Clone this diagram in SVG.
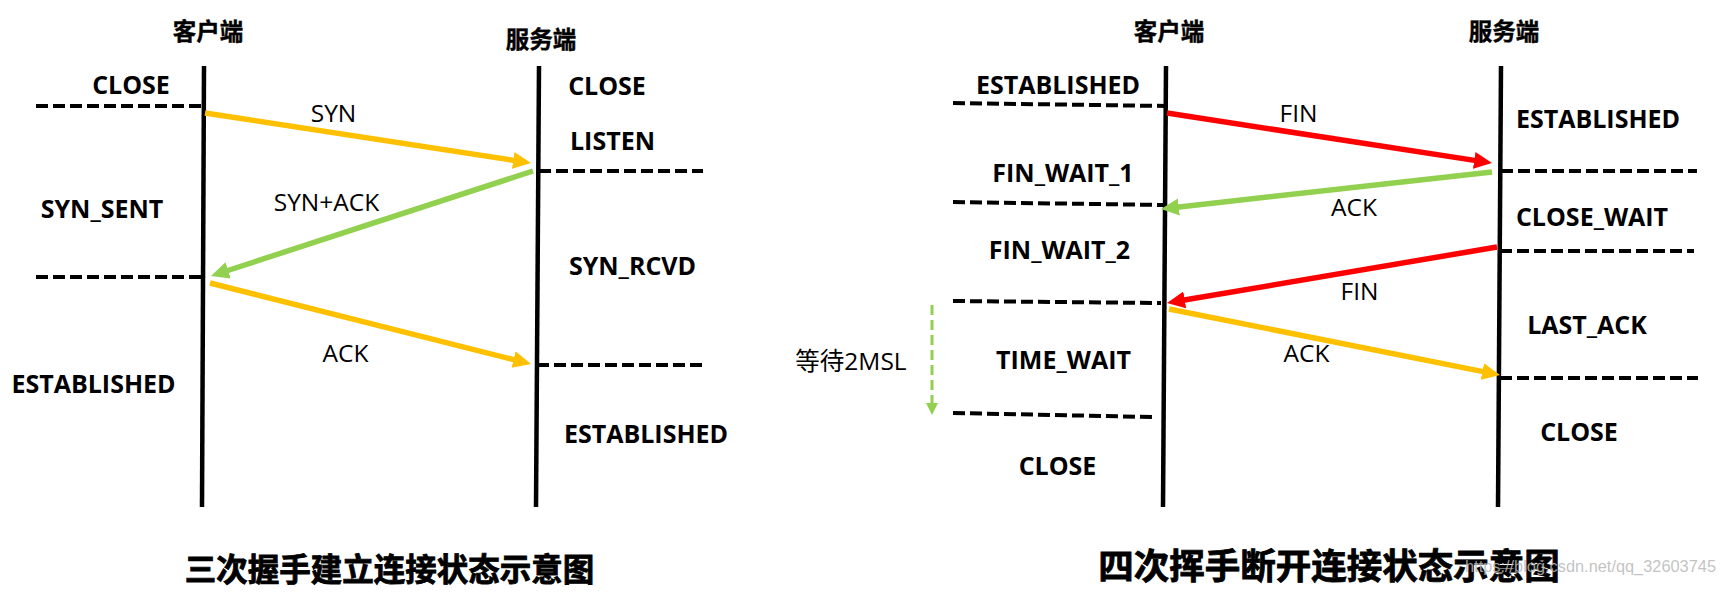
<svg xmlns="http://www.w3.org/2000/svg" width="1723" height="593" viewBox="0 0 1723 593">
<style>
.state{font-family:"Open Sans","Noto Sans CJK SC",sans-serif;font-weight:700;font-size:25px;fill:#000;text-anchor:middle}
.msg{font-family:"Open Sans","Noto Sans CJK SC",sans-serif;font-weight:400;font-size:24.5px;fill:#000;text-anchor:middle}
.head{font-family:"Noto Sans CJK SC",sans-serif;font-weight:700;font-size:23.5px;fill:#000;stroke:#000;stroke-width:0.4;text-anchor:middle}
.title{font-family:"Noto Sans CJK SC",sans-serif;font-weight:700;fill:#000;stroke:#000;stroke-width:0.8;text-anchor:middle}
.life{stroke:#000;stroke-width:4.5;fill:none}
.dash{stroke:#000;stroke-width:4;stroke-dasharray:12 5;fill:none}
.y{stroke:#FFC000;stroke-width:5.5;fill:none}
.g{stroke:#92D050;stroke-width:5.5;fill:none}
.r{stroke:#FF0000;stroke-width:5.5;fill:none}
</style>
<defs>
<marker id="ay" markerUnits="userSpaceOnUse" markerWidth="24" markerHeight="20" viewBox="0 -10 24 20" refX="2" refY="0" orient="auto"><path d="M0,-8.5 L18,0 L0,8.5 z" fill="#FFC000"/></marker>
<marker id="ag" markerUnits="userSpaceOnUse" markerWidth="24" markerHeight="20" viewBox="0 -10 24 20" refX="2" refY="0" orient="auto"><path d="M0,-8.5 L18,0 L0,8.5 z" fill="#92D050"/></marker>
<marker id="ar" markerUnits="userSpaceOnUse" markerWidth="24" markerHeight="20" viewBox="0 -10 24 20" refX="2" refY="0" orient="auto"><path d="M0,-8.5 L18,0 L0,8.5 z" fill="#FF0000"/></marker>
<marker id="ag2" markerUnits="userSpaceOnUse" markerWidth="16" markerHeight="16" viewBox="0 -8 16 16" refX="1" refY="0" orient="auto"><path d="M0,-6 L12,0 L0,6 z" fill="#92D050"/></marker>
</defs>
<rect width="1723" height="593" fill="#fff"/>

<!-- Left diagram: three-way handshake -->
<g id="client1">
<line class="life" x1="204" y1="66" x2="202" y2="507"/>
<text class="head" x="208" y="40">客户端</text>
</g>
<g id="server1">
<line class="life" x1="539" y1="66" x2="536" y2="507"/>
<text class="head" x="541" y="48">服务端</text>
</g>
<g id="c1-close"><text class="state" x="131" y="94">CLOSE</text></g>
<g id="c1-synsent"><text class="state" x="102" y="218">SYN_SENT</text></g>
<g id="c1-established"><text class="state" x="93.5" y="393">ESTABLISHED</text></g>
<g id="s1-close"><text class="state" x="607" y="95">CLOSE</text></g>
<g id="s1-listen"><text class="state" x="612.5" y="150">LISTEN</text></g>
<g id="s1-synrcvd"><text class="state" x="632.5" y="275">SYN_RCVD</text></g>
<g id="s1-established"><text class="state" x="646" y="443">ESTABLISHED</text></g>
<g id="title1"><text class="title" x="389.5" y="581" font-size="31.5">三次握手建立连接状态示意图</text></g>

<!-- Right diagram: four-way wave -->
<g id="client2">
<line class="life" x1="1166" y1="66" x2="1163" y2="507"/>
<text class="head" x="1169" y="40">客户端</text>
</g>
<g id="server2">
<line class="life" x1="1501" y1="66" x2="1498" y2="507"/>
<text class="head" x="1504" y="40">服务端</text>
</g>
<g id="c2-established"><text class="state" x="1058" y="94">ESTABLISHED</text></g>
<g id="c2-finwait1"><text class="state" x="1063" y="182">FIN_WAIT_1</text></g>
<g id="c2-finwait2"><text class="state" x="1059.5" y="259">FIN_WAIT_2</text></g>
<g id="c2-timewait"><text class="state" x="1063.5" y="369">TIME_WAIT</text></g>
<g id="c2-close"><text class="state" x="1057.5" y="475">CLOSE</text></g>
<g id="c2-2msl"><text class="msg" x="851" y="370" font-size="24">等待2MSL</text></g>
<g id="s2-established"><text class="state" x="1598" y="128">ESTABLISHED</text></g>
<g id="s2-closewait"><text class="state" x="1592" y="226">CLOSE_WAIT</text></g>
<g id="s2-lastack"><text class="state" x="1587" y="334">LAST_ACK</text></g>
<g id="s2-close"><text class="state" x="1579" y="441">CLOSE</text></g>
<g id="title2"><text class="title" x="1329" y="579" font-size="35.5">四次挥手断开连接状态示意图</text></g>
<g id="watermark"><text x="1465" y="572" font-family="Liberation Sans, sans-serif" font-size="17" fill="#b8b8b8" fill-opacity="0.85" textLength="251" lengthAdjust="spacingAndGlyphs">https://blog.csdn.net/qq_32603745</text></g>

<g id="connectors">
<!-- state divider dashed lines -->
<line class="dash" x1="36" y1="106" x2="204" y2="106"/>
<line class="dash" x1="36" y1="277" x2="204" y2="277"/>
<line class="dash" x1="539" y1="171" x2="703" y2="171"/>
<line class="dash" x1="537" y1="365" x2="706" y2="365"/>
<line class="dash" x1="953" y1="103" x2="1166" y2="106"/>
<line class="dash" x1="953" y1="202" x2="1164" y2="205"/>
<line class="dash" x1="953" y1="301" x2="1161" y2="303"/>
<line class="dash" x1="953" y1="413" x2="1153" y2="417"/>
<line class="dash" x1="1501" y1="171" x2="1697" y2="171"/>
<line class="dash" x1="1500" y1="251" x2="1694" y2="251"/>
<line class="dash" x1="1500" y1="378" x2="1698" y2="378"/>
<!-- handshake messages -->
<line class="y" x1="205" y1="113" x2="515.2" y2="160.6" marker-end="url(#ay)"/>
<text class="msg" x="333.5" y="122">SYN</text>
<line class="g" x1="533" y1="171" x2="226.2" y2="271" marker-end="url(#ag)"/>
<text class="msg" x="326.5" y="211">SYN+ACK</text>
<line class="y" x1="210" y1="283" x2="515.5" y2="360.1" marker-end="url(#ay)"/>
<text class="msg" x="345.5" y="362">ACK</text>
<!-- wave messages -->
<line class="r" x1="1167" y1="113" x2="1476.2" y2="160.6" marker-end="url(#ar)"/>
<text class="msg" x="1298.5" y="122">FIN</text>
<line class="g" x1="1492" y1="172" x2="1176.9" y2="207.2" marker-end="url(#ag)"/>
<text class="msg" x="1354" y="216">ACK</text>
<line class="r" x1="1497" y1="247" x2="1182.8" y2="300.3" marker-end="url(#ar)"/>
<text class="msg" x="1359.5" y="300">FIN</text>
<line class="y" x1="1169" y1="309" x2="1484.3" y2="371.9" marker-end="url(#ay)"/>
<text class="msg" x="1306.5" y="362">ACK</text>
<!-- 2MSL wait -->
<line x1="932" y1="305" x2="932" y2="404" stroke="#92D050" stroke-width="3" stroke-dasharray="10 5" marker-end="url(#ag2)"/>
</g>
</svg>
